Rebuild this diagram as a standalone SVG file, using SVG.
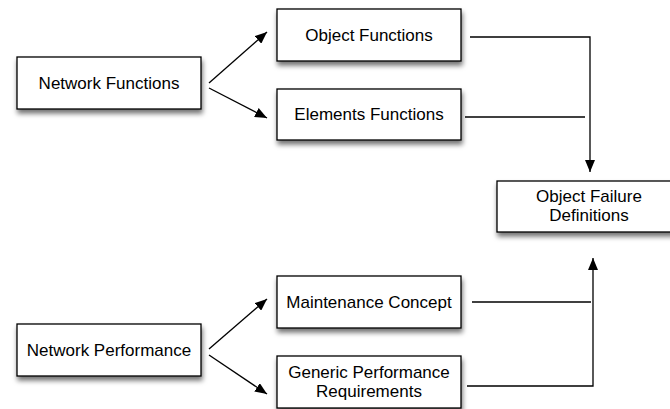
<svg xmlns="http://www.w3.org/2000/svg" width="670" height="409" viewBox="0 0 670 409">
<style>
.box{fill:#fff;stroke:#000;stroke-width:1.3;filter:url(#sh)}
.t{font-family:"Liberation Sans",Arial,sans-serif;font-size:17px;fill:#000;text-anchor:middle}
.c{fill:none;stroke:#000;stroke-width:1.3}
</style>
<defs>
<filter id="sh" x="-10%" y="-20%" width="125%" height="160%">
<feDropShadow dx="1" dy="4" stdDeviation="2.5" flood-color="#000" flood-opacity="0.55"/>
</filter>
<marker id="ah" markerUnits="userSpaceOnUse" markerWidth="12" markerHeight="10" refX="12" refY="5" orient="auto">
<path d="M0,0 L12,5 L0,10 z" fill="#000"/>
</marker>
</defs>
<g id="connectors">
<path class="c" d="M209,83 L267,32" marker-end="url(#ah)"/>
<path class="c" d="M209,88 L267,118" marker-end="url(#ah)"/>
<path class="c" d="M209,349 L267,299" marker-end="url(#ah)"/>
<path class="c" d="M209,355 L267,394" marker-end="url(#ah)"/>
<path class="c" d="M470,37 L590,37 L590,172" marker-end="url(#ah)"/>
<path class="c" d="M465,117 L585,117"/>
<path class="c" d="M472,302 L591,302"/>
<path class="c" d="M467,386 L593,386 L593,258" marker-end="url(#ah)"/>
</g>
<g id="network-functions">
<rect class="box" x="17" y="57" width="184" height="52"/>
<text class="t" x="109" y="89">Network Functions</text>
</g>
<g id="object-functions">
<rect class="box" x="277" y="9" width="184" height="52"/>
<text class="t" x="369" y="41">Object Functions</text>
</g>
<g id="elements-functions">
<rect class="box" x="277" y="89" width="184" height="51"/>
<text class="t" x="369" y="120">Elements Functions</text>
</g>
<g id="object-failure-definitions">
<rect class="box" x="497" y="181" width="184" height="51"/>
<text class="t" x="589" y="202">Object Failure</text>
<text class="t" x="589" y="221">Definitions</text>
</g>
<g id="network-performance">
<rect class="box" x="17" y="324" width="184" height="52"/>
<text class="t" x="109" y="356">Network Performance</text>
</g>
<g id="maintenance-concept">
<rect class="box" x="277" y="276" width="184" height="52"/>
<text class="t" x="369" y="308">Maintenance Concept</text>
</g>
<g id="generic-performance-requirements">
<rect class="box" x="277" y="356" width="184" height="52"/>
<text class="t" x="369" y="378">Generic Performance</text>
<text class="t" x="369" y="397">Requirements</text>
</g>
</svg>
